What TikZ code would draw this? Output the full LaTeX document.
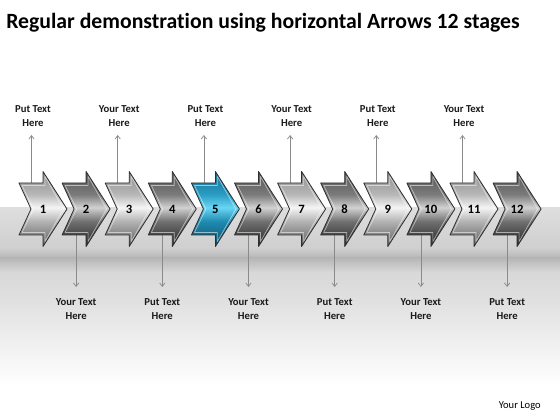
\documentclass[tikz,border=0pt]{standalone}
\usepackage{fontspec}
\setmainfont{Carlito}[Ligatures=NoCommon]
\usetikzlibrary{arrows.meta}
\definecolor{arrowedge}{HTML}{2E2E2E}
\definecolor{lblcol}{HTML}{1A1A1A}
\definecolor{conncol}{HTML}{8A8A8A}
% vertical shadings: 25bp = path bottom, 75bp = path top
\pgfdeclareverticalshading{lightshade}{100bp}{%
  color(0bp)=(black!62); color(25bp)=(black!62); color(33bp)=(black!48);
  color(41.7bp)=(black!30); color(51bp)=(black!4); color(59.7bp)=(black!28);
  color(75bp)=(black!45); color(100bp)=(black!45)}
\pgfdeclareverticalshading{darkshade}{100bp}{%
  color(0bp)=(black!82); color(25bp)=(black!82); color(33bp)=(black!72);
  color(41.7bp)=(black!56); color(51bp)=(black!18); color(59.7bp)=(black!52);
  color(75bp)=(black!66); color(100bp)=(black!66)}
\definecolor{bluetop}{HTML}{1B6E8E}
\definecolor{bluemid}{HTML}{2A9CC4}
\definecolor{bluelight}{HTML}{6AD6F4}
\definecolor{bluelow}{HTML}{1F8AB0}
\definecolor{bluebot}{HTML}{0C4F6A}
\pgfdeclareverticalshading{blueshade}{100bp}{%
  color(0bp)=(bluebot); color(25bp)=(bluebot); color(41.7bp)=(bluelow);
  color(51bp)=(bluelight); color(59.7bp)=(bluemid); color(75bp)=(bluetop);
  color(100bp)=(bluetop)}
\definecolor{bgA}{HTML}{DEDEDE}
\definecolor{bgB}{HTML}{CFCFCF}
\definecolor{bgC}{HTML}{B6B6B6}
\definecolor{bgD}{HTML}{D8D8D8}
\definecolor{bgE}{HTML}{E0E0E0}
\tikzset{
  lbl/.style={align=center, text=lblcol, inner sep=0pt,
    font=\fontsize{8}{10.5}\selectfont\bfseries},
  num/.style={text=black, inner sep=0pt, font=\fontsize{9.5}{10}\selectfont\bfseries},
  conn/.style={draw=conncol, line width=0.55pt,
    -{Straight Barb[length=2.6pt,width=4pt]}},
  arrowbody/.style={draw=arrowedge, line width=0.6pt, line join=round},
  bevel/.style={draw=white, draw opacity=0.55, line width=0.5pt, line join=round}
}
\begin{document}
\begin{tikzpicture}[x=0.75pt,y=-0.75pt]
\useasboundingbox (0,0) rectangle (560,420);
\fill[white] (0,0) rectangle (560,420);
% background band
\shade[top color=bgA, bottom color=bgB] (0,208) rectangle (560,248.2);
\shade[top color=bgB, bottom color=bgC] (0,248) rectangle (560,258.2);
\shade[top color=bgC, bottom color=bgD] (0,258) rectangle (560,272.2);
\shade[top color=bgD, bottom color=bgE] (0,272) rectangle (560,300.2);
\shade[top color=bgE, bottom color=white] (0,300) rectangle (560,385);
% title
\node[anchor=west, inner sep=0pt, font=\fontsize{16.3}{18}\selectfont\bfseries] (title) at (6,23)
  {Regular demonstration using horizontal Arrows 12 stages};
% connectors and labels (behind the arrows)
\foreach \i/\t in {1/Put,3/Your,5/Put,7/Your,9/Put,11/Your}{
  \pgfmathsetmacro{\L}{19+43.1*(\i-1)}
  \coordinate (t\i) at (\L+12.5,185);
  \coordinate (ut\i) at (\L+12.5,135);
  \node[lbl] (u\i) at (\L+14,116) {\t\ Text\\Here};
  \draw[conn] (t\i) -- (ut\i);
}
\foreach \i/\t in {2/Your,4/Put,6/Your,8/Put,10/Your,12/Put}{
  \pgfmathsetmacro{\L}{19+43.1*(\i-1)}
  \coordinate (b\i) at (\L+14,233);
  \coordinate (db\i) at (\L+14,287);
  \node[lbl] (d\i) at (\L+14,309) {\t\ Text\\Here};
  \draw[conn] (b\i) -- (db\i);
}
% arrows
\foreach \i in {1,...,12}{
  \pgfmathsetmacro{\L}{19+43.1*(\i-1)}
  \ifnum\i=5 \def\sh{blueshade}\else\ifodd\i \def\sh{lightshade}\else\def\sh{darkshade}\fi\fi
  \shade[shading=\sh, arrowbody]
    (\L,183) -- (\L+24,183) -- (\L+24,171.5) -- (\L+48,209) -- (\L+24,246.5)
    -- (\L+24,235) -- (\L,235) -- (\L+12,209) -- cycle;
  \draw[bevel]
    (\L+3,185.5) -- (\L+26,185.5) -- (\L+26,176.5) -- (\L+44.5,209) -- (\L+26,241.5)
    -- (\L+26,232.5) -- (\L+3,232.5) -- (\L+14.5,209) -- cycle;
  \node[num] (n\i) at (\L+24,209) {\i};
}
% logo
\node[anchor=east, inner sep=0pt, font=\fontsize{7.9}{9}\selectfont] (logo) at (541,406) {Your Logo};
\end{tikzpicture}
\end{document}
